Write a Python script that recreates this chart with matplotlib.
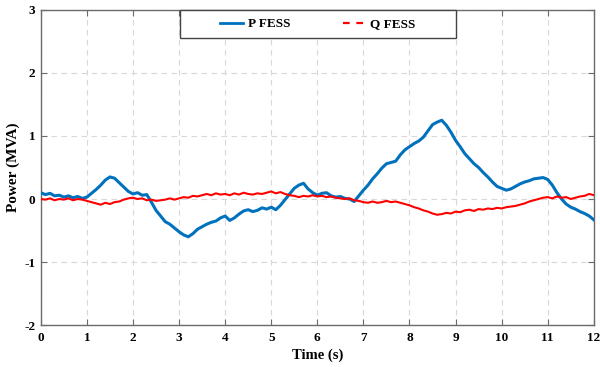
import numpy as np
import matplotlib
matplotlib.use("Agg")
import matplotlib.pyplot as plt
from matplotlib.lines import Line2D
from matplotlib.patches import Rectangle

# sample times (s), 0.1 s spacing
time_s = np.round(np.arange(0, 121) * 0.1, 1)

# P FESS (MVA)
p_fess = [0.10, 0.07, 0.09, 0.05, 0.06, 0.03, 0.05, 0.02, 0.04, 0.01,
          0.03, 0.09, 0.15, 0.22, 0.30, 0.35, 0.33, 0.26, 0.19, 0.12,
          0.08, 0.10, 0.06, 0.07, -0.05, -0.18, -0.27, -0.36, -0.40, -0.46,
          -0.52, -0.57, -0.60, -0.55, -0.48, -0.44, -0.40, -0.37, -0.35, -0.30,
          -0.27, -0.34, -0.30, -0.24, -0.19, -0.17, -0.20, -0.18, -0.14, -0.16,
          -0.13, -0.17, -0.10, -0.01, 0.08, 0.17, 0.22, 0.25, 0.16, 0.10,
          0.06, 0.09, 0.10, 0.05, 0.03, 0.04, 0.01, 0.00, -0.04, 0.05,
          0.14, 0.22, 0.32, 0.40, 0.49, 0.56, 0.58, 0.60, 0.70, 0.78,
          0.83, 0.88, 0.92, 0.98, 1.08, 1.18, 1.22, 1.25, 1.17, 1.06,
          0.93, 0.83, 0.72, 0.64, 0.56, 0.50, 0.42, 0.35, 0.27, 0.20,
          0.17, 0.14, 0.16, 0.20, 0.24, 0.27, 0.29, 0.32, 0.33, 0.34,
          0.31, 0.22, 0.10, 0.00, -0.08, -0.13, -0.16, -0.20, -0.23, -0.27,
          -0.33]

# Q FESS (MVA)
q_fess = [0.00, -0.01, 0.01, -0.02, 0.00, -0.01, 0.01, -0.02, 0.00, -0.01,
          -0.03, -0.05, -0.07, -0.09, -0.06, -0.08, -0.05, -0.04, -0.01, 0.01,
          0.02, 0.00, 0.01, -0.02, -0.01, -0.03, -0.02, -0.01, 0.01, -0.01,
          0.01, 0.03, 0.02, 0.05, 0.04, 0.06, 0.08, 0.06, 0.09, 0.07,
          0.08, 0.06, 0.09, 0.07, 0.10, 0.08, 0.07, 0.09, 0.08, 0.10,
          0.12, 0.09, 0.11, 0.08, 0.06, 0.05, 0.03, 0.05, 0.04, 0.06,
          0.04, 0.05, 0.03, 0.04, 0.02, 0.01, 0.00, 0.01, -0.02, -0.03,
          -0.05, -0.06, -0.04, -0.06, -0.05, -0.03, -0.05, -0.04, -0.06, -0.08,
          -0.10, -0.13, -0.15, -0.18, -0.20, -0.23, -0.25, -0.24, -0.22, -0.23,
          -0.20, -0.21, -0.18, -0.17, -0.19, -0.16, -0.17, -0.15, -0.16, -0.14,
          -0.15, -0.13, -0.12, -0.11, -0.09, -0.07, -0.04, -0.02, 0.00, 0.02,
          0.03, 0.01, 0.04, 0.02, 0.03, 0.00, 0.02, 0.04, 0.05, 0.08,
          0.06]

x_ticks = list(range(0, 13))
y_ticks = [-2, -1, 0, 1, 2, 3]

BLUE = "#0072BD"; RED = "#FF0000"; FRAME = "#6b6b6b"
plt.rcParams["font.family"] = ["Liberation Serif", "DejaVu Serif"]
plt.rcParams["font.weight"] = "bold"
plt.rcParams["axes.unicode_minus"] = False

fig = plt.figure(figsize=(6.0, 3.67), dpi=100)
ax = fig.add_axes([0.068, 0.1144, 0.9217, 0.8584])

ax.plot(time_s, p_fess, color=BLUE, lw=2.2, zorder=3)
ax.plot(time_s, q_fess, color=RED, lw=1.5, zorder=4)

ax.set_xlim(0, 12); ax.set_ylim(-2, 3)
ax.set_xticks(x_ticks); ax.set_yticks(y_ticks)
ax.tick_params(direction="in", top=True, right=True, length=4, width=0.8,
               color=FRAME, labelsize=9.5)
ax.tick_params(axis="x", pad=5)
ax.tick_params(axis="y", pad=4)
for lab in ax.get_xticklabels() + ax.get_yticklabels():
    lab.set_fontweight("bold")
for s in ax.spines.values():
    s.set_color(FRAME); s.set_linewidth(1.0)
ax.grid(True, color="#d8d8d8", ls=(0, (5, 4)), lw=0.8)
ax.set_axisbelow(True)
ax.set_xlabel("Time (s)", fontsize=10.5, fontweight="bold", labelpad=3)
ax.set_ylabel("Power (MVA)", fontsize=11, fontweight="bold", labelpad=3)

# legend box (MATLAB style, glued to the top of the axes)
ax.add_patch(Rectangle((0.251, 0.911), 0.5, 0.089, transform=ax.transAxes,
                       facecolor="white", edgecolor="#444444", lw=1.0,
                       zorder=5, clip_on=False))
handles = [Line2D([], [], color=BLUE, lw=2.0),
           Line2D([], [], color=RED, lw=1.6, ls=(0, (3, 3)))]
leg = ax.legend(handles, ["P FESS", "Q FESS"], ncol=2, loc="center",
                bbox_to_anchor=(0.501, 0.9555), frameon=False,
                prop={"weight": "bold", "size": 9.5}, handlelength=1.7,
                handletextpad=0.35, columnspacing=4.0, borderaxespad=0,
                borderpad=0)
leg.set_zorder(6)

fig.savefig("out.png", dpi=100)
